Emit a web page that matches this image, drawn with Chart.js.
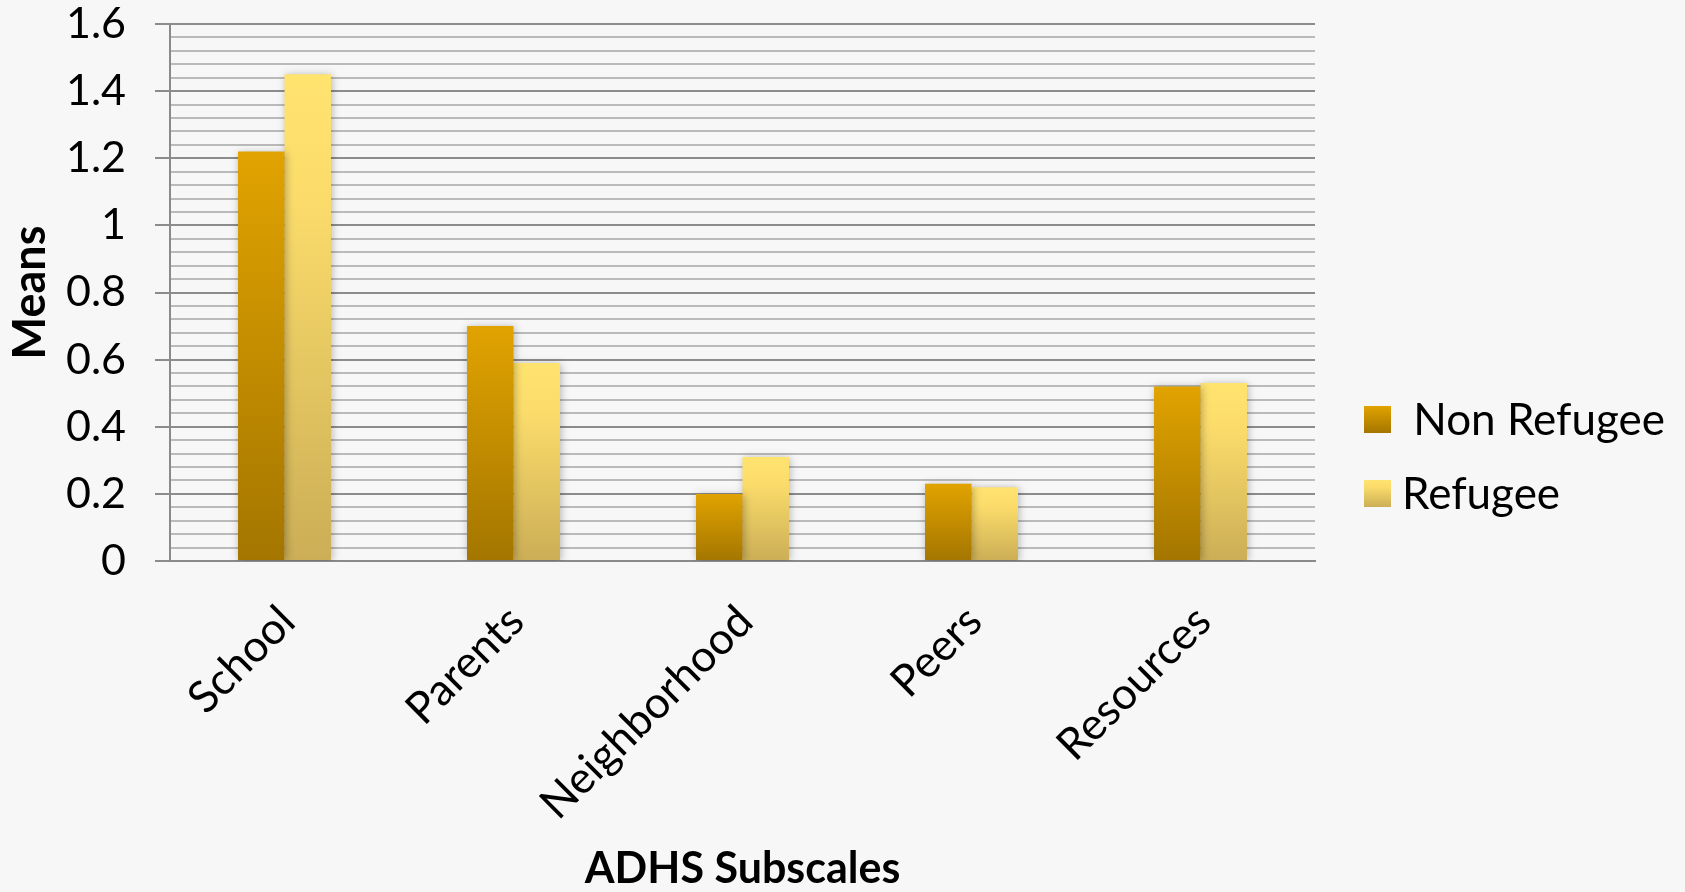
<!DOCTYPE html>
<html>
<head>
<meta charset="utf-8">
<script src="https://cdn.jsdelivr.net/npm/chart.js@4"></script>
<style>
  html, body { margin: 0; padding: 0; background: #f7f7f7; }
</style>
</head>
<body>
<canvas id="myChart" width="1685" height="892"></canvas>
<script>
var categories = ['School', 'Parents', 'Neighborhood', 'Peers', 'Resources']
var nonRefugee = [1.22, 0.70, 0.20, 0.23, 0.52]
var refugee = [1.45, 0.59, 0.31, 0.22, 0.53]
var yTickLabels = ['0', '0.2', '0.4', '0.6', '0.8', '1', '1.2', '1.4', '1.6']
var yMajorStep = 0.2
var yMinorStep = 0.04

var nonRefugeeStops = [[0, '#e1a300'], [1, '#a47600']]
var refugeeStops = [[0, '#ffe36f'], [0.25, '#fbdc6b'], [1, '#cbae56']]

function isMajor(v) {
  return Math.abs(v / yMajorStep - Math.round(v / yMajorStep)) < 1e-6
}

function makeGradient(ctx, stops, top, bottom) {
  var g = ctx.createLinearGradient(0, top, 0, bottom)
  stops.forEach(function (s) { g.addColorStop(s[0], s[1]) })
  return g
}

function barFill(stops) {
  return function (c) {
    var chart = c.chart
    if (c.type !== 'data' || !chart.chartArea) return stops[0][1]
    var y = chart.scales.y
    return makeGradient(chart.ctx, stops, y.getPixelForValue(c.raw), y.getPixelForValue(0))
  }
}

// soft shadow behind the bars, like the office chart
var barShadow = {
  id: 'barShadow',
  beforeDatasetsDraw: function (chart) {
    var ctx = chart.ctx
    ctx.save()
    ctx.shadowColor = 'rgba(0, 0, 0, 0.28)'
    ctx.shadowBlur = 8
    ctx.shadowOffsetX = 1
    ctx.shadowOffsetY = 1
  },
  afterDatasetsDraw: function (chart) {
    chart.ctx.restore()
  }
}

// legend at the right side with gradient swatches
var sideLegend = {
  id: 'sideLegend',
  afterDraw: function (chart) {
    var ctx = chart.ctx
    var x = chart.chartArea.right + 49
    var top = chart.height / 2 - 40
    var stops = [nonRefugeeStops, refugeeStops]
    ctx.save()
    ctx.font = '44px Lato'
    ctx.textBaseline = 'alphabetic'
    chart.data.datasets.forEach(function (ds, i) {
      var y = top + i * 74
      ctx.fillStyle = makeGradient(ctx, stops[i], y, y + 27)
      ctx.fillRect(x, y, 27, 27)
      ctx.fillStyle = '#000'
      ctx.fillText(ds.label, x + 38, y + 13.5 + 15)
    })
    ctx.restore()
  }
}

function draw() {
  var ctx = document.getElementById('myChart').getContext('2d')
  var myChart = new Chart(ctx, {
    type: 'bar',
    data: {
      labels: categories,
      datasets: [{
        label: ' Non Refugee',
        data: nonRefugee,
        backgroundColor: barFill(nonRefugeeStops),
        borderWidth: 0,
        categoryPercentage: 0.406,
        barPercentage: 1,
      }, {
        label: 'Refugee',
        data: refugee,
        backgroundColor: barFill(refugeeStops),
        borderWidth: 0,
        categoryPercentage: 0.406,
        barPercentage: 1,
      }]
    },
    options: {
      responsive: false,
      animation: false,
      layout: { padding: { left: 0, top: 24, right: 370, bottom: 0 } },
      plugins: {
        legend: { display: false },
        tooltip: { enabled: false },
      },
      scales: {
        x: {
          afterFit: function (s) {
            s.height = 331
            s.paddingLeft = 0
            s.paddingRight = 0
          },
          grid: { display: false, drawTicks: false },
          border: { color: '#8a8a8a', width: 2 },
          ticks: {
            minRotation: 45,
            maxRotation: 45,
            padding: 50,
            labelOffset: 3,
            color: '#000',
            font: { family: 'Lato', size: 44, lineHeight: 0.2 },
          },
          title: {
            display: true,
            text: 'ADHS Subscales',
            color: '#000',
            font: { family: 'Lato', size: 43, weight: 'bold', lineHeight: 1 },
            padding: { top: 0, bottom: 1 },
          },
        },
        y: {
          min: 0,
          max: 1.6,
          afterFit: function (s) {
            s.width = 170
            s.paddingTop = 0
            s.paddingBottom = 0
          },
          ticks: {
            stepSize: yMinorStep,
            autoSkip: false,
            padding: 29,
            color: '#000',
            font: { family: 'Lato', size: 43 },
            callback: function (v) {
              return isMajor(v) ? yTickLabels[Math.round(v / yMajorStep)] : ''
            },
          },
          grid: {
            color: function (c) { return isMajor(c.tick.value) ? '#8c8c8c' : '#bababa' },
            lineWidth: 2,
            tickLength: 15,
            tickColor: function (c) { return isMajor(c.tick.value) ? '#8c8c8c' : 'rgba(0,0,0,0)' },
          },
          border: { color: '#8a8a8a', width: 2 },
          title: {
            display: true,
            text: 'Means',
            color: '#000',
            font: { family: 'Lato', size: 45, weight: 'bold', lineHeight: 1 },
            padding: { top: 8, bottom: 0 },
          },
        },
      },
    },
    plugins: [barShadow, sideLegend],
  })
}

if (document.fonts && document.fonts.load) {
  Promise.all([
    document.fonts.load('43px Lato'),
    document.fonts.load('bold 43px Lato'),
  ]).then(draw, draw)
} else {
  draw()
}
</script>
</body>
</html>
